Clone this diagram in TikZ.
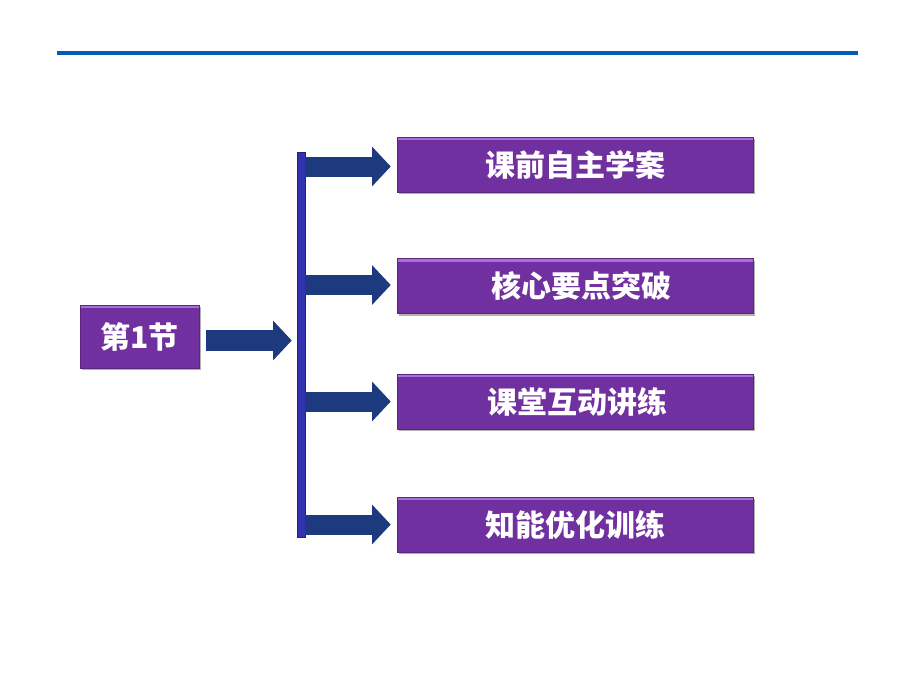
\documentclass[tikz,border=0pt]{standalone}
\usepackage{fontspec}
\newfontfamily\cjk{Noto Sans CJK SC}
\usetikzlibrary{arrows.meta,shadows}
\definecolor{topline}{RGB}{0,94,184}
\definecolor{boxpurple}{RGB}{112,48,160}
\definecolor{boxhi}{RGB}{170,110,220}
\definecolor{arrowblue}{RGB}{28,58,125}
\definecolor{barblue}{RGB}{50,50,175}
\tikzset{
  pbox/.style={rectangle, fill=boxpurple, draw=boxpurple!80!black, line width=0.4pt,
    inner sep=0pt, text=white, font=\cjk\bfseries\fontsize{22.5}{26}\selectfont,
    drop shadow={shadow xshift=1.5pt, shadow yshift=-1.5pt, fill=black, opacity=0.3},
    path picture={\fill[boxhi] (path picture bounding box.north west) rectangle ([yshift=-2.5pt]path picture bounding box.north east);}},
  bigbox/.style={pbox, minimum width=267pt, minimum height=41.25pt},
  blockarrow/.style={draw=arrowblue, line width=15pt,
    -{Triangle[length=14pt, width=29pt]}},
}
\begin{document}
\begin{tikzpicture}[x=0.75pt, y=-0.75pt]
\useasboundingbox (0,0) rectangle (920,690);
% top rule
\coordinate (ruleL) at (57,53);
\coordinate (ruleR) at (858,53);
\draw[topline, line width=3pt] (ruleL) -- (ruleR);
% left box
\node[pbox, minimum width=89.25pt, minimum height=47.25pt] (sec) at (139.5,336.5) {第1节};
% vertical bar
\node[rectangle, fill=barblue, draw=barblue!70!black, line width=0.4pt, inner sep=0pt,
  minimum width=6pt, minimum height=288.75pt,
  drop shadow={shadow xshift=1pt, shadow yshift=-1pt, fill=black, opacity=0.25}] (bar) at (301,344.5) {};
% right boxes
\node[bigbox] (b1) at (575,164.5) {课前自主学案};
\node[bigbox] (b2) at (575,286) {\hspace{10pt}核心要点突破};
\node[bigbox] (b3) at (575,401.5) {\hspace{4pt}课堂互动讲练};
\node[bigbox] (b4) at (575,524.5) {知能优化训练};
% arrows
\draw[blockarrow, line width=15.75pt, shorten <=5.25pt, shorten >=3.75pt]
  ([yshift=-3pt]sec.east) -- ([yshift=-3pt]bar.west |- sec.east);
\foreach \b/\dy in {b1/-1.5pt, b2/0.75pt, b3/0pt, b4/0pt}{
  \draw[blockarrow, shorten >=4.5pt]
    ([yshift=\dy]bar.east |- \b.west) -- ([yshift=\dy]\b.west);
}
\end{tikzpicture}
\end{document}
